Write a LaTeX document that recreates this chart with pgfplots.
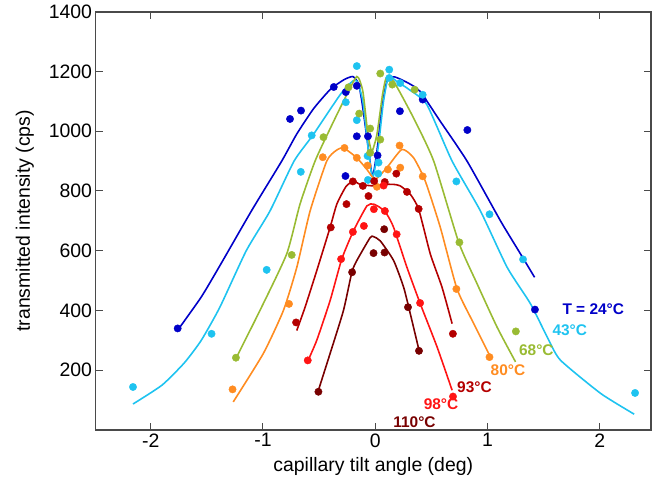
\documentclass[border=0pt]{standalone}
\usepackage{fontspec}
\setmainfont{Liberation Sans}
\usepackage{pgfplots}
\pgfplotsset{compat=1.18}
\definecolor{Blue24}{HTML}{0000C8}
\definecolor{Cyan43}{HTML}{1EC3F0}
\definecolor{Green68}{HTML}{99BB33}
\definecolor{Orange80}{HTML}{FF8C21}
\definecolor{DRed93}{HTML}{B40000}
\definecolor{Red98}{HTML}{FF1414}
\definecolor{Brown110}{HTML}{780000}
\definecolor{AxisGray}{HTML}{4A4A4A}
\tikzset{
  fitline/.style={no marks, smooth, tension=0.35, line width=1.6pt, draw=#1},
  pts/.style={only marks, mark=*, mark size=3.7pt, color=#1, mark options={draw=#1, fill=#1}},
  tlab/.style={anchor=west, font=\bfseries\fontsize{15.5}{18}\selectfont, text=#1, inner sep=0pt}
}
\begin{document}
\begin{tikzpicture}
\path[use as bounding box] (-95.5bp,-57bp) rectangle (560.5bp,430bp);
\begin{axis}[
  scale only axis,
  width=555.5bp, height=418.3bp,
  xmin=-2.492, xmax=2.457,
  ymin=0, ymax=1400,
  xtick={-2,-1,0,1,2},
  ytick={200,400,...,1400},
  tick align=inside,
  major tick length=7bp,
  axis line style={line width=1.7pt, draw=AxisGray},
  tick style={line width=1pt, draw=AxisGray},
  /pgf/number format/assume math mode=true,
  /pgf/number format/1000 sep={},
  tick label style={font=\fontsize{19.5}{22}\selectfont},
  label style={font=\fontsize{19.5}{22}\selectfont},
  xlabel={capillary tilt angle (deg)},
  ylabel={transmitted intensity (cps)},
  xlabel style={at={(axis description cs:0.5,-0.088)}, anchor=center},
  ylabel style={at={(axis description cs:-0.127,0.5)}, anchor=center},
]
% 24 C
\addplot[fitline=Blue24] coordinates {(-1.756,336) (-1.55,445) (-1.384,550) (-1.1,735) (-0.833,900) (-0.7,990) (-0.55,1075) (-0.4,1140) (-0.28,1172) (-0.2,1183) (-0.15,1160) (-0.119,1100) (-0.074,978) (-0.025,850) (0.015,933) (0.06,1078) (0.104,1167) (0.17,1182) (0.30,1160) (0.40,1133) (0.58,1033) (0.818,900) (1.116,700) (1.295,589) (1.42,511)};
\addplot[pts=Blue24] coordinates {(-1.76,340) (-0.759,1041) (-0.661,1069) (-0.369,1148) (-0.262,1131) (-0.164,1152) (-0.164,983) (-0.065,983) (-0.265,850) (0.021,919) (0.22,1067) (0.423,1106) (0.821,1004) (1.423,403)};
% 43 C
\addplot[fitline=Cyan43] coordinates {(-2.158,87) (-1.9,150) (-1.7,225) (-1.55,300) (-1.384,411) (-1.149,600) (-0.9375,733) (-0.723,900) (-0.551,989) (-0.3125,1122) (-0.2,1168) (-0.16,1165) (-0.11,1100) (-0.06,933) (-0.021,844) (0.03,956) (0.074,1100) (0.119,1183) (0.19,1167) (0.3,1140) (0.46,1089) (0.685,900) (0.9375,733) (1.176,544) (1.384,422) (1.547,300) (1.652,233) (2.01,122) (2.307,53)};
\addplot[pts=Cyan43] coordinates {(-2.158,144) (-1.458,322) (-0.967,536) (-0.663,864) (-0.566,986) (-0.262,1097) (-0.164,1218) (-0.164,1037) (-0.068,917) (-0.065,837) (0.027,858) (0.03,895) (0.125,1206) (0.125,1178) (0.223,1161) (0.423,1122) (0.723,832) (1.018,722) (1.317,571) (2.315,124)};
% 68 C
\addplot[fitline=Green68] coordinates {(-1.235,244) (-1.027,400) (-0.789,589) (-0.67,756) (-0.536,900) (-0.4,1010) (-0.283,1100) (-0.164,1183) (-0.11,1133) (-0.065,989) (-0.03,933) (0.015,989) (0.065,1122) (0.098,1178) (0.164,1167) (0.342,1044) (0.521,900) (0.744,628) (0.908,489) (1.086,344) (1.25,228)};
\addplot[pts=Green68] coordinates {(-1.241,242) (-0.744,586) (-0.461,980) (-0.238,1147) (-0.143,1059) (-0.045,1009) (-0.045,928) (0.045,972) (0.045,1193) (0.152,1156) (0.351,1139) (0.75,628) (1.253,330)};
% 80 C
\addplot[fitline=Orange80] coordinates {(-1.265,94) (-0.997,256) (-0.818,400) (-0.699,544) (-0.58,733) (-0.432,900) (-0.35,935) (-0.283,944) (-0.164,911) (-0.074,872) (0,839) (0.104,878) (0.238,939) (0.342,911) (0.446,833) (0.58,678) (0.729,472) (0.878,356) (1.027,244)};
\addplot[pts=Orange80] coordinates {(-1.271,136) (-0.768,422) (-0.467,913) (-0.274,944) (-0.164,911) (-0.068,885) (0.015,814) (0.113,872) (0.217,952) (0.223,878) (0.423,849) (0.723,472) (1.018,244)};
% 93 C
\addplot[fitline=DRed93] coordinates {(-0.699,333) (-0.625,411) (-0.521,533) (-0.402,678) (-0.342,756) (-0.26,815) (-0.193,833) (-0.134,822) (-0.015,817) (0.074,822) (0.164,822) (0.223,817) (0.3125,789) (0.387,739) (0.491,589) (0.595,478) (0.685,356)};
\addplot[pts=DRed93] coordinates {(-0.705,360) (-0.396,678) (-0.256,756) (-0.199,832) (-0.11,817) (-0.06,783) (-0.009,833) (0.085,830) (0.188,858) (0.283,797) (0.387,740) (0.692,322)};
% 98 C
\addplot[fitline=Red98] coordinates {(-0.604,228) (-0.521,300) (-0.402,433) (-0.298,572) (-0.193,667) (-0.074,750) (-0.015,756) (0.045,744) (0.104,722) (0.164,678) (0.283,544) (0.402,422) (0.551,278) (0.685,133)};
\addplot[pts=Red98] coordinates {(-0.601,233) (-0.304,572) (-0.199,663) (-0.101,683) (-0.012,739) (0.086,733) (0.075,818) (0.191,655) (0.40,425) (0.693,112)};
% 110 C
\addplot[fitline=Brown110] coordinates {(-0.506,133) (-0.402,256) (-0.283,400) (-0.208,528) (-0.164,567) (-0.045,644) (-0.015,647) (0.045,633) (0.164,567) (0.253,478) (0.3125,389) (0.387,272)};
\addplot[pts=Brown110] coordinates {(-0.506,128) (-0.206,528) (-0.015,592) (0.083,594) (0.08,672) (0.292,411) (0.39,265)};
% labels
\node[tlab=Blue24] at (axis cs:1.667,406) {T = 24°C};
\node[tlab=Cyan43] at (axis cs:1.578,333) {43°C};
\node[tlab=Green68] at (axis cs:1.28,267) {68°C};
\node[tlab=Orange80] at (axis cs:1.027,200) {80°C};
\node[tlab=DRed93] at (axis cs:0.729,144) {93°C};
\node[tlab=Red98] at (axis cs:0.431,88) {98°C};
\node[tlab=Brown110] at (axis cs:0.16,26) {110°C};
\end{axis}
\end{tikzpicture}
\end{document}
